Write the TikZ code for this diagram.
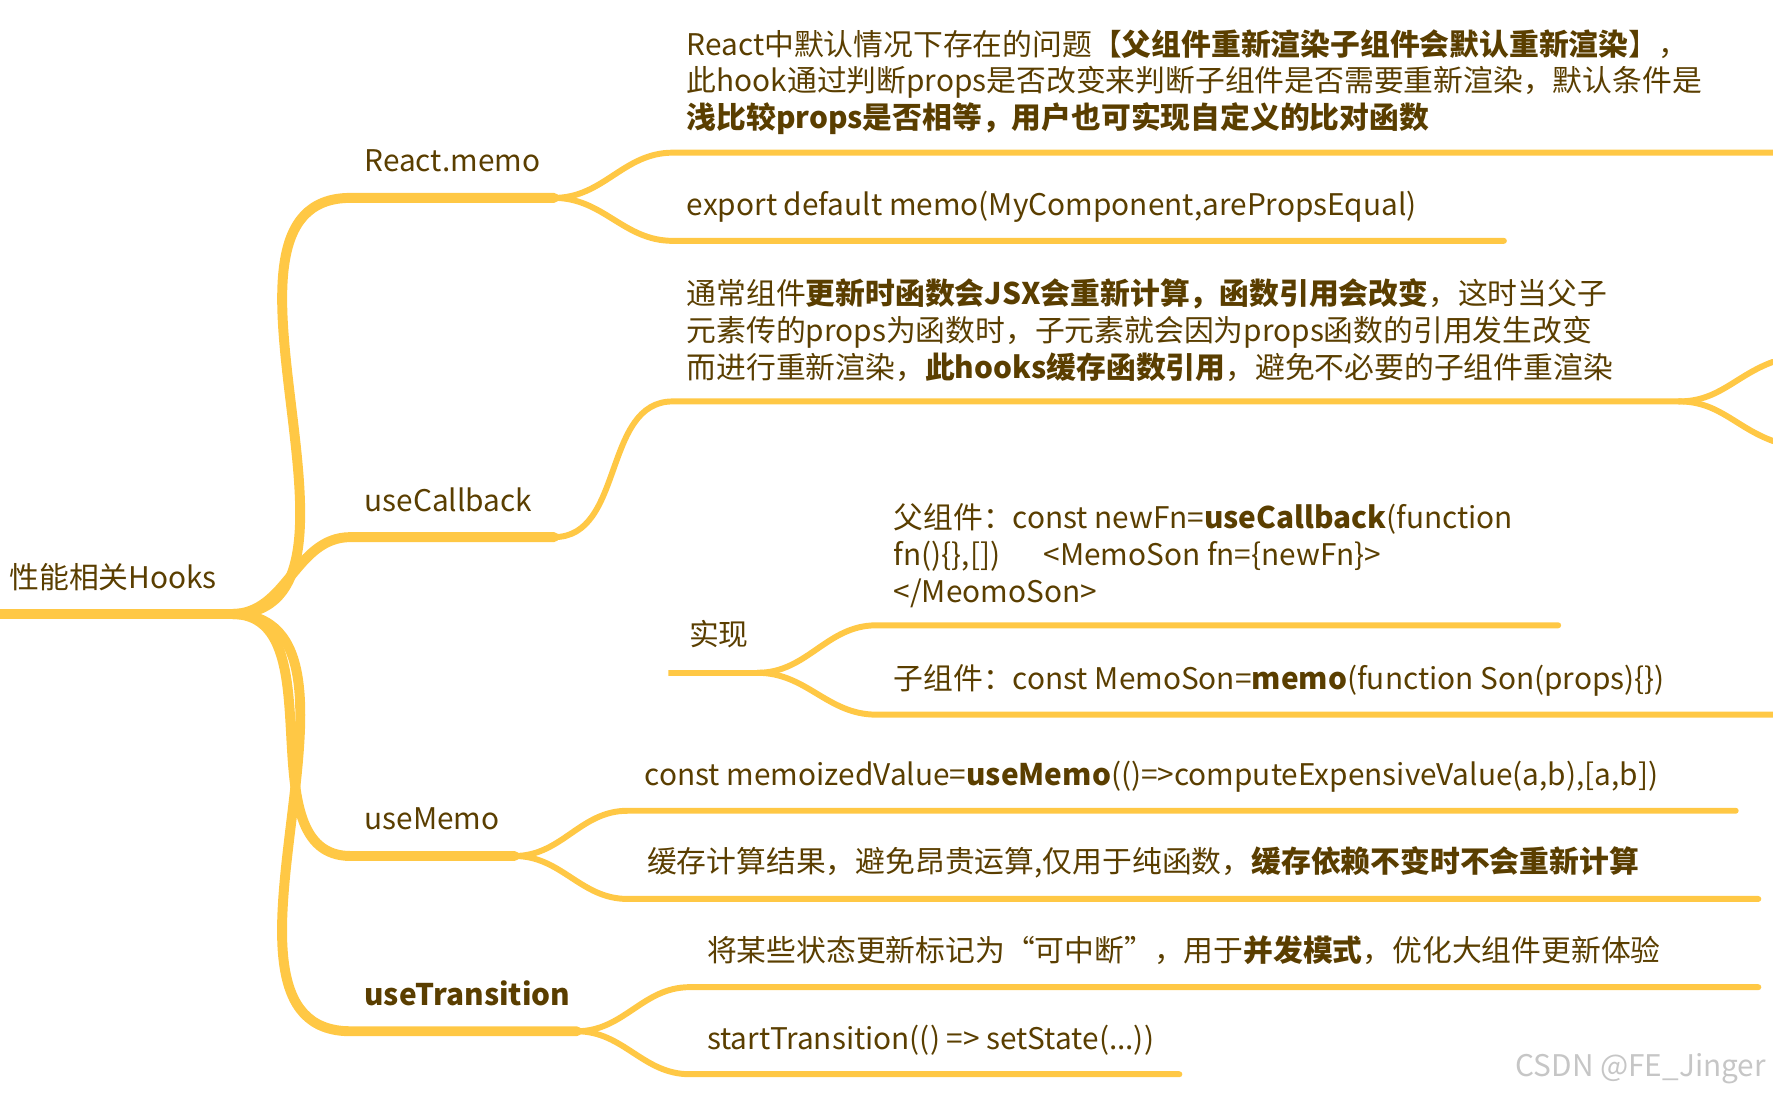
\documentclass[tikz,border=0pt]{standalone}
\usepackage{fontspec}
\setmainfont{Noto Sans CJK SC}
\usepackage{tikz}
\definecolor{branch}{HTML}{FFC845}
\definecolor{ink}{HTML}{5A3E00}
\tikzset{
  limb/.style={branch,line width=5pt,line cap=round},
  twig/.style={branch,line width=3pt,line cap=round},
  txt/.style={ink,anchor=base west,inner sep=0pt,align=left,
    font=\fontsize{15}{18.6}\selectfont},
}
\begin{document}
\begin{tikzpicture}[x=0.02cm,y=-0.02cm]
     \useasboundingbox (0,0) rectangle (1568,968);
     % root
     \coordinate (r0) at (0,543);
     \coordinate (r1) at (205,543);
     \draw[limb] (r0) -- (r1);
     \node[txt] (root) at (8,520) {性能相关Hooks};
     % first level
     \foreach \n/\y/\e in {memo/175/490,cb/475/490,um/757/455,ut/912/510}{
       \coordinate (\n0) at (310,\y);
       \coordinate (\n1) at (\e,\y);
       \draw[limb] (r1) to[out=0,in=180] (\n0) -- (\n1);
     }
     \node[txt] (memo) at (322,152) {React.memo};
     \node[txt] (cb) at (322,452) {useCallback};
     \node[txt] (um) at (322,734) {useMemo};
     \node[txt] (ut) at (322,889) {\textbf{useTransition}};
     % second level
     \foreach \p/\n/\x/\y/\e in {memo/ma/595/135/1568,memo/mb/595/213/1330,
         cb/ca/595/355/1485,cb/cb/595/595/670,
         um/ua/555/717/1535,um/ub/555/795/1555,
         ut/ta/610/873/1555,ut/tb/610/950/1043}{
       \coordinate (\n0) at (\x,\y);
       \coordinate (\n1) at (\e,\y);
       \draw[twig] (\p1) to[out=0,in=180] (\n0) -- (\n1);
     }
     \coordinate (cx1) at (1568,320);
     \coordinate (cx2) at (1568,390);
     \draw[twig] (ca1) to[out=0,in=200] (cx1);
     \draw[twig] (ca1) to[out=0,in=160] (cx2);
     \foreach \n/\y/\e in {sa/553/1378,sb/632/1568}{
       \coordinate (\n0) at (775,\y);
       \coordinate (\n1) at (\e,\y);
       \draw[twig] (cb1) to[out=0,in=180] (\n0) -- (\n1);
     }
     % texts
     \node[txt] (ma) at (607,114) {React中默认情况下存在的问题【\textbf{父组件重新渲染子组件会默认重新渲染}】，\\
       此hook通过判断props是否改变来判断子组件是否需要重新渲染，默认条件是\\
       \textbf{浅比较props是否相等，用户也可实现自定义的比对函数}};
     \node[txt] (mb) at (607,191) {export default memo(MyComponent,arePropsEqual)};
     \node[txt] (ca) at (607,335) {通常组件\textbf{更新时函数会JSX会重新计算，函数引用会改变}，这时当父子\\
       元素传的props为函数时，子元素就会因为props函数的引用发生改变\\
       而进行重新渲染，\textbf{此hooks缓存函数引用}，避免不必要的子组件重渲染};
     \node[txt] (cbt) at (609,571) {实现};
     \node[txt] (sa) at (790,533) {父组件：const newFn=\textbf{useCallback}(function\\
       fn()\{\},[])\quad\ \ <MemoSon fn=\{newFn\}>\\
       </MeomoSon>};
     \node[txt] (sb) at (790,610) {子组件：const MemoSon=\textbf{memo}(function Son(props)\{\})};
     \node[txt] (ua) at (570,695) {const memoizedValue=\textbf{useMemo}(()=>computeExpensiveValue(a,b),[a,b])};
     \node[txt] (ub) at (572,772) {缓存计算结果，避免昂贵运算,仅用于纯函数，\textbf{缓存依赖不变时不会重新计算}};
     \node[txt] (ta) at (625,850) {将某些状态更新标记为“可中断”，用于\textbf{并发模式}，优化大组件更新体验};
     \node[txt] (tb) at (625,928) {startTransition(() => setState(...))};
     \node[txt,gray!45,anchor=base east] (wm) at (1562,952) {CSDN @FE\_Jinger};
\end{tikzpicture}
\end{document}
